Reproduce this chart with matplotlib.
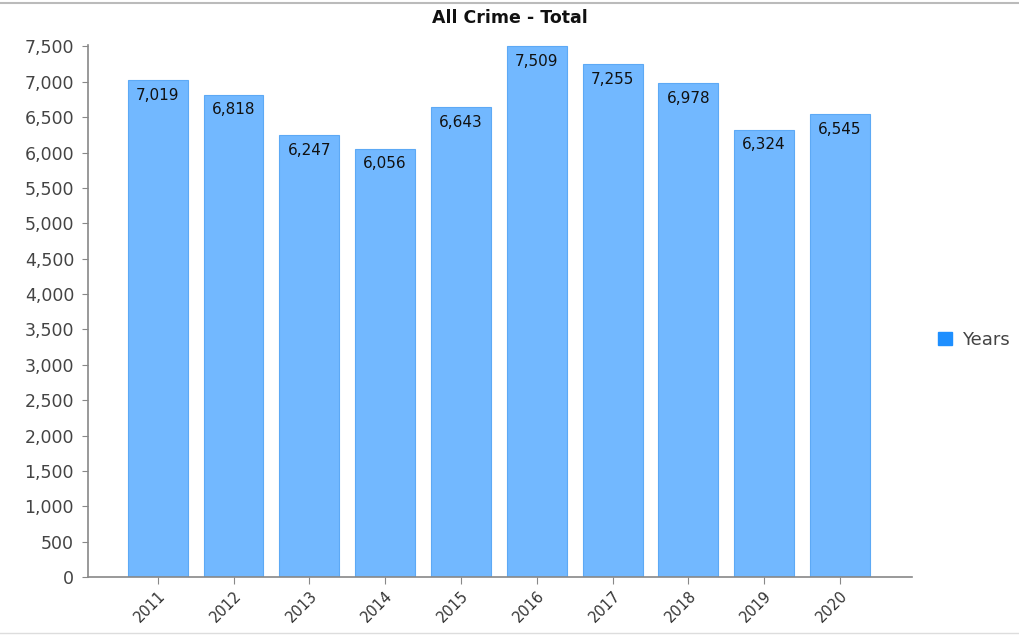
import matplotlib
matplotlib.use("Agg")
import matplotlib.pyplot as plt
from matplotlib.patches import Patch
from matplotlib.lines import Line2D
from matplotlib.transforms import ScaledTranslation

years = ["2011", "2012", "2013", "2014", "2015", "2016", "2017", "2018", "2019", "2020"]
totals = [7019, 6818, 6247, 6056, 6643, 7509, 7255, 6978, 6324, 6545]
y_ticks = list(range(0, 7501, 500))

fig = plt.figure(figsize=(10.19, 6.36), dpi=100)
ax = fig.add_axes([88 / 1019, 1 - 577 / 636, 824 / 1019, 532 / 636])

x = list(range(len(years)))
ax.bar(x, totals, width=0.79, color="#72B8FF", edgecolor="#5DA9F5", linewidth=0.8)

for xi, v in zip(x, totals):
    ax.text(xi, v - 110, f"{v:,}", ha="center", va="top", fontsize=11,
            color="#111111", family="DejaVu Sans")

ax.set_xlim(-0.92, 9.95)
ax.set_ylim(0, 7520)
ax.set_yticks(y_ticks)
ax.set_yticklabels([f"{t:,}" for t in y_ticks], fontsize=12.5, color="#444444")
ax.set_xticks(x)
ax.set_xticklabels(years, rotation=45, fontsize=10.5, color="#333333")
shift = ScaledTranslation(13 / 100, -4 / 100, fig.dpi_scale_trans)
for lbl in ax.get_xticklabels():
    lbl.set_rotation_mode("anchor")
    lbl.set_ha("right")
    lbl.set_va("top")
    lbl.set_transform(lbl.get_transform() + shift)

for side in ("top", "right"):
    ax.spines[side].set_visible(False)
for side in ("left", "bottom"):
    ax.spines[side].set_color("#888888")
    ax.spines[side].set_linewidth(1.2)
ax.tick_params(axis="y", length=4, color="#888888", pad=6)
ax.tick_params(axis="x", length=5, color="#888888", pad=3)

fig.text(0.5, 1 - 18 / 636, "All Crime - Total", ha="center", va="center",
         fontsize=12.5, fontweight="bold", color="#111111")

handle = Patch(facecolor="#1E8FFF", edgecolor="#1E8FFF")
fig.legend([handle], ["Years"], loc="center left",
           bbox_to_anchor=(922 / 1019, 1 - 340 / 636), frameon=False,
           fontsize=13, labelcolor="#444444", handlelength=0.75,
           handleheight=0.75, handletextpad=0.55)

# window frame lines
fig.add_artist(Line2D([0, 1], [1 - 3 / 636, 1 - 3 / 636], color="#BBBBBB",
                      linewidth=1.5, transform=fig.transFigure))
fig.add_artist(Line2D([0, 1], [1 - 633 / 636, 1 - 633 / 636], color="#DDDDDD",
                      linewidth=1.0, transform=fig.transFigure))

fig.savefig("out.png", dpi=100)
